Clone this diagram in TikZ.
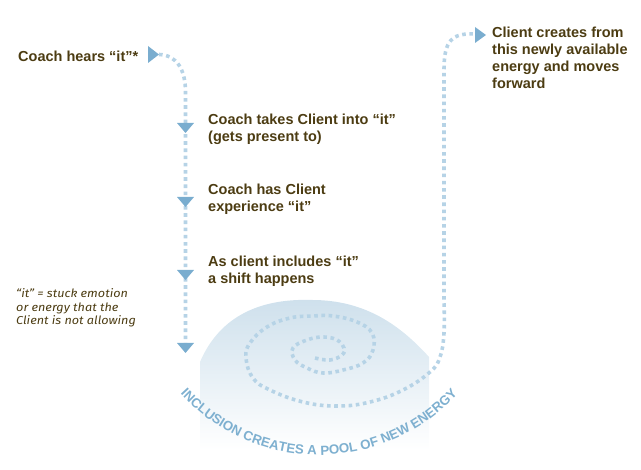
\documentclass[tikz,border=0pt]{standalone}
\usepackage{fontspec}
\setmainfont{Liberation Sans}
\newfontfamily\notefont[FakeStretch=1.1]{Fira Sans}
\newfontfamily\capfont{Liberation Sans}
\usetikzlibrary{decorations.text}
\definecolor{txtbrown}{RGB}{76,60,18}
\definecolor{dotblue}{RGB}{182,211,230}
\definecolor{arrblue}{RGB}{122,173,207}
\definecolor{poolblue}{RGB}{206,224,236}
\definecolor{capblue}{RGB}{126,176,208}
\begin{document}
\begin{tikzpicture}[x=1pt,y=1pt,
  lbl/.style={anchor=base west, inner sep=0pt, text=txtbrown, font=\fontsize{14.5}{17}\selectfont\bfseries},
  notetext/.style={anchor=base west, inner sep=0pt, text=txtbrown, font=\notefont\fontsize{11.5}{13.5}\selectfont\itshape},
  dotline/.style={draw=dotblue, line width=3.6pt, dash pattern=on 3.6pt off 3.6pt},
  headfill/.style={fill=arrblue, draw=none}]
\useasboundingbox (0,0) rectangle (641,470);

% pool
\shade[top color=poolblue, bottom color=white] (200,20) -- (200,108)
  .. controls (218,150) and (255,172) .. (312,170)
  .. controls (365,170) and (400,145) .. (429,113) -- (429,20) -- cycle;

% coordinates
\coordinate (h0) at (159,415.5);
\coordinate (v0) at (185.5,378);
\coordinate (d1) at (185.5,337);
\coordinate (d2) at (185.5,263);
\coordinate (d3) at (185.5,190);
\coordinate (d4) at (185.5,117);
\coordinate (d4b) at (185.5,127);
\coordinate (sp) at (315,112);
\coordinate (rv) at (444,400);
\coordinate (h5) at (486,435);
\coordinate (h5b) at (475,436);

% left dotted connector
\draw[dotline] (h0) .. controls (177,415) and (185.5,400) .. (v0) -- (d4b);

% spiral and right connector
\draw[dotline] plot[smooth, tension=0.7] coordinates {
 (315,112) (330,110) (342,115) (344,122) (337,130) (323,133) (307,130)
 (293,122) (295,110) (307,102) (323,97) (343,100) (363,107) (373,120)
 (372,137) (357,148) (333,154) (313,154) (290,152) (267,143) (250,127)
 (246,112) (253,92) (270,80) (303,68) (337,64) (370,68) (403,80)
 (430,98) (440,113) (444,137) (444,170)}
 -- (rv) .. controls (444,430) and (452,437) .. (h5b);

% arrowheads
\fill[headfill] (h0) -- ++(-11,8.5) -- ++(0,-17) -- cycle;
\foreach \d in {d1,d2,d3,d4}{
  \fill[headfill] (\d) -- ++(-8.5,10) -- ++(17,0) -- cycle;
}
\fill[headfill] (h5) -- ++(-11,8) -- ++(0,-16) -- cycle;

% texts
\node[lbl] (t0) at (18,408) {Coach hears “it”*};
\node[lbl] (t1) at (208,345) {\begin{tabular}[t]{@{}l@{}}Coach takes Client into “it”\\(gets present to)\end{tabular}};
\node[lbl] (t2) at (208,275) {\begin{tabular}[t]{@{}l@{}}Coach has Client\\experience “it”\end{tabular}};
\node[lbl] (t3) at (208,203) {\begin{tabular}[t]{@{}l@{}}As client includes “it”\\a shift happens\end{tabular}};
\node[lbl] (t4) at (492,432) {\begin{tabular}[t]{@{}l@{}}Client creates from\\this newly available\\energy and moves\\forward\end{tabular}};
\node[notetext] (t5) at (16,172) {\begin{tabular}[t]{@{}l@{}}“it” = stuck emotion\\or energy that the\\Client is not allowing\end{tabular}};

% curved caption
\path[decorate, decoration={text along path, text color=capblue,
  text={|\capfont\bfseries\fontsize{13.3}{13.3}\selectfont|INCLUSION CREATES A POOL OF NEW ENERGY},
  text align=center}]
  (319,203) ++(215:188) arc[start angle=215, end angle=325, radius=188];
\end{tikzpicture}
\end{document}
